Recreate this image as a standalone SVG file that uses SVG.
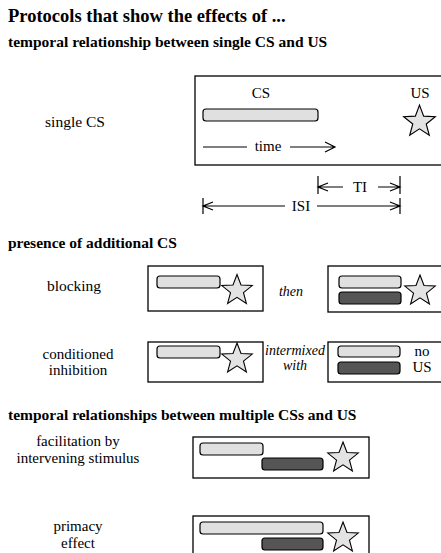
<svg xmlns="http://www.w3.org/2000/svg" width="441" height="553" viewBox="0 0 441 553">
<style>
text{font-family:"Liberation Serif","Times New Roman",serif;fill:#000}
.h1{font-size:18.5px;font-weight:bold}
.h2{font-size:15.5px;font-weight:bold}
.lb{font-size:15.5px;text-anchor:middle}
.lb2{font-size:15px;text-anchor:middle}
.sm{font-size:15px;text-anchor:middle}
.it{font-size:14px;font-style:italic;text-anchor:middle}
.box{fill:#fff;stroke:#000;stroke-width:1.3}
.cs1{fill:#e0e0e0;stroke:#000;stroke-width:1.2}
.cs2{fill:#555;stroke:#000;stroke-width:1.2}
.star{fill:#e3e3e3;stroke:#000;stroke-width:1.1;stroke-linejoin:miter}
.ln{fill:none;stroke:#000;stroke-width:1.2}
</style>
<defs>
<path id="star" d="M0,-16 L4,-5.5 L15.22,-4.94 L6.47,2.1 L9.4,12.94 L0,6.8 L-9.4,12.94 L-6.47,2.1 L-15.22,-4.94 L-4,-5.5 Z"/>
</defs>
<rect width="441" height="553" fill="#fff"/>
<text class="h1" x="8" y="22">Protocols that show the effects of ...</text>
<text class="h2" x="8" y="47">temporal relationship between single CS and US</text>
<text class="h2" x="8" y="248">presence of additional CS</text>
<text class="h2" x="8" y="420">temporal relationships between multiple CSs and US</text>

<g id="single-cs">
<text class="lb" x="75" y="127">single CS</text>
<rect class="box" x="195" y="76" width="260" height="89"/>
<text class="sm" x="261" y="98">CS</text>
<text class="sm" x="420" y="98">US</text>
<rect class="cs1" x="203" y="109" width="115" height="12" rx="3"/>
<use href="#star" class="star" transform="translate(419.5,121.8) scale(1.04)"/>
<text class="sm" x="268" y="151">time</text>
</g>

<g id="connectors">
<path class="ln" d="M203,147 H247 M290,147 H335 M325,142 L335,147 L325,152"/>
<path class="ln" d="M318,176 V194 M318,187 H343 M328,183 L318,187 L328,191 M378,187 H400 M390,183 L400,187 L390,191 M400,176 V194"/>
<path class="ln" d="M203,198 V214 M203,206 H285 M213,202 L203,206 L213,210 M317,206 H400 M390,202 L400,206 L390,210 M400,198 V214"/>
</g>
<g id="dim-labels">
<text class="sm" x="360" y="192">TI</text>
<text class="sm" x="301" y="211">ISI</text>
</g>

<g id="blocking">
<text class="lb" x="74" y="291">blocking</text>
<rect class="box" x="148" y="266" width="115" height="45"/>
<rect class="cs1" x="157" y="276" width="63" height="12" rx="3"/>
<use href="#star" class="star" transform="translate(237,290.5)"/>
</g>
<text class="it" x="291" y="296">then</text>
<g id="blocking-2">
<rect class="box" x="328" y="266" width="130" height="46"/>
<rect class="cs1" x="339" y="276" width="62" height="12" rx="3"/>
<rect class="cs2" x="339" y="292" width="62" height="12" rx="3"/>
<use href="#star" class="star" transform="translate(420,291)"/>
</g>

<g id="conditioned-inhibition">
<text class="lb2" x="78" y="359">conditioned</text>
<text class="lb2" x="78" y="375">inhibition</text>
<rect class="box" x="148" y="342" width="115" height="40"/>
<rect class="cs1" x="157" y="346" width="63" height="12" rx="3"/>
<use href="#star" class="star" transform="translate(237,359)"/>
</g>
<text class="it" x="295" y="355">intermixed</text>
<text class="it" x="295" y="370">with</text>
<g id="ci-2">
<rect class="box" x="328" y="342" width="130" height="40"/>
<rect class="cs1" x="338" y="346" width="62" height="11" rx="3"/>
<rect class="cs2" x="338" y="362" width="62" height="12" rx="3"/>
<text class="lb2" x="422" y="356">no</text>
<text class="lb2" x="422" y="372">US</text>
</g>

<g id="facilitation">
<text class="lb2" x="78" y="446">facilitation  by</text>
<text class="lb2" x="78" y="463">intervening stimulus</text>
<rect class="box" x="193" y="437" width="176" height="41"/>
<rect class="cs1" x="200" y="443" width="63" height="12" rx="3"/>
<rect class="cs2" x="262" y="458" width="61" height="12" rx="3"/>
<use href="#star" class="star" transform="translate(343,458)"/>
</g>

<g id="primacy">
<text class="lb2" x="78" y="531">primacy</text>
<text class="lb2" x="78" y="548">effect</text>
<rect class="box" x="193" y="516" width="176" height="45"/>
<rect class="cs1" x="200" y="522" width="123" height="12" rx="3"/>
<rect class="cs2" x="262" y="538" width="61" height="12" rx="3"/>
<use href="#star" class="star" transform="translate(343,538)"/>
</g>
</svg>
